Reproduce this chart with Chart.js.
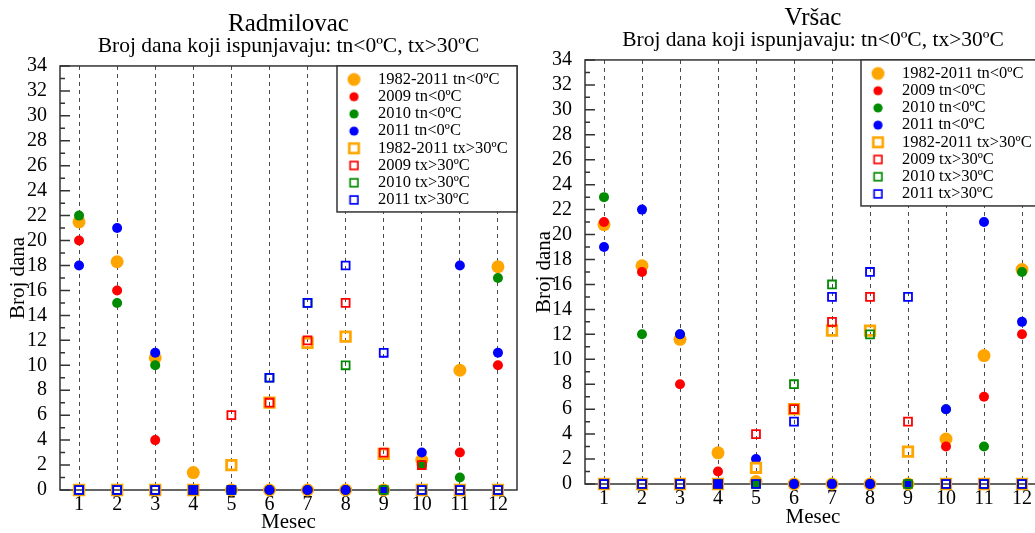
<!DOCTYPE html>
<html>
<head>
<meta charset="utf-8">
<title>Broj dana tn&lt;0ºC, tx&gt;30ºC</title>
<script src="https://cdn.jsdelivr.net/npm/chart.js@4.4.1/dist/chart.umd.min.js"></script>
<style>
  html, body { margin: 0; padding: 0; background: #fff; overflow: hidden; }
  .panel { position: absolute; top: 0; height: 533px; }
  #leftPanel { left: 0; width: 520px; }
  #rightPanel { left: 520px; width: 540px; }
</style>
</head>
<body>
<div class="panel" id="leftPanel"><canvas id="radmilovacChart"></canvas></div>
<div class="panel" id="rightPanel"><canvas id="vrsacChart"></canvas></div>
<script>
const months = ["1", "2", "3", "4", "5", "6", "7", "8", "9", "10", "11", "12"];
const seriesNames = [
  "1982-2011 tn<0ºC", "2009 tn<0ºC", "2010 tn<0ºC", "2011 tn<0ºC",
  "1982-2011 tx>30ºC", "2009 tx>30ºC", "2010 tx>30ºC", "2011 tx>30ºC"
];
const subtitleText = "Broj dana koji ispunjavaju: tn<0ºC, tx>30ºC";

// Radmilovac - frost days (tn<0) and hot days (tx>30) per month
const radTn8211 = [21.5, 18.3, 10.6, 1.4, 0, 0, 0, 0, 0, 2.4, 9.6, 17.9];
const radTn2009 = [20, 16, 4, 0, 0, 0, 0, 0, 0, 2, 3, 10];
const radTn2010 = [22, 15, 10, 0, 0, 0, 0, 0, 0, 2, 1, 17];
const radTn2011 = [18, 21, 11, 0, 0, 0, 0, 0, 0, 3, 18, 11];
const radTx8211 = [0, 0, 0, 0, 2, 7, 11.8, 12.3, 2.9, 0, 0, 0];
const radTx2009 = [0, 0, 0, 0, 6, 7, 12, 15, 3, 2, 0, 0];
const radTx2010 = [0, 0, 0, 0, 0, 9, 15, 10, 0, 0, 0, 0];
const radTx2011 = [0, 0, 0, 0, 0, 9, 15, 18, 11, 0, 0, 0];

// Vršac
const vrTn8211 = [20.8, 17.5, 11.6, 2.5, 0.2, 0, 0, 0, 0, 3.6, 10.3, 17.2];
const vrTn2009 = [21, 17, 8, 1, 0, 0, 0, 0, 0, 3, 7, 12];
const vrTn2010 = [23, 12, 12, 0, 0, 0, 0, 0, 0, 6, 3, 17];
const vrTn2011 = [19, 22, 12, 0, 2, 0, 0, 0, 0, 6, 21, 13];
const vrTx8211 = [0, 0, 0, 0, 1.3, 6, 12.3, 12.3, 2.6, 0, 0, 0];
const vrTx2009 = [0, 0, 0, 0, 4, 6, 13, 15, 5, 0, 0, 0];
const vrTx2010 = [0, 0, 0, 0, 0, 8, 16, 12, 0, 0, 0, 0];
const vrTx2011 = [0, 0, 0, 0, 0, 5, 15, 17, 15, 0, 0, 0];

const seriesColors = ["#ffa500", "#ff0000", "#008b00", "#0000ff", "#ffa500", "#ff0000", "#008b00", "#0000ff"];

const serif = "'Liberation Serif', 'Times New Roman', serif";
Chart.defaults.font.family = serif;
Chart.defaults.color = "#000";

const LEGEND_W = 180;
const LEGEND_H = 146;

// small legend icons; the marker sits left of the icon centre so the
// symbol column lines up with the boxed legend of the plot
function legendIcon(i) {
  const c = document.createElement("canvas");
  c.width = 32;
  c.height = 18;
  const g = c.getContext("2d");
  const big = i % 4 === 0;
  if (i < 4) {
    g.fillStyle = seriesColors[i];
    g.beginPath();
    g.arc(8.25, 9, big ? 6.5 : 4.6, 0, Math.PI * 2);
    g.fill();
  } else {
    const s = big ? 9.5 : 7.8;
    g.strokeStyle = seriesColors[i];
    g.lineWidth = big ? 2.6 : 1.7;
    g.strokeRect(8.25 - s / 2, 9 - s / 2, s, s);
  }
  return c;
}
const icons = seriesNames.map((_, i) => legendIcon(i));

function buildDatasets(values) {
  return values.map((data, i) => {
    const square = i >= 4;
    const big = i % 4 === 0;
    return {
      label: seriesNames[i],
      data: data,
      showLine: false,
      clip: false,
      order: values.length - i, // later series end up on top
      pointStyle: square ? "rect" : "circle",
      pointRadius: square ? (big ? 6.7 : 5.6) : (big ? 6.5 : 5),
      pointHoverRadius: square ? (big ? 6.7 : 5.6) : (big ? 6.5 : 5),
      pointBackgroundColor: square ? "rgba(0,0,0,0)" : seriesColors[i],
      pointBorderColor: seriesColors[i],
      pointBorderWidth: square ? (big ? 2.8 : 1.8) : 0,
      backgroundColor: seriesColors[i],
      borderColor: seriesColors[i]
    };
  });
}

// frame round the plot, inward y ticks and the boxed legend in the corner
const plotFrame = {
  id: "plotFrame",
  beforeDraw(chart) {
    const a = chart.chartArea;
    const lg = chart.legend;
    lg.left = a.right - LEGEND_W + 16;
    lg.top = a.top + 4.6;
    lg.right = a.right;
    lg.bottom = a.top + LEGEND_H;
  },
  beforeDatasetsDraw(chart) {
    const { ctx, chartArea: a } = chart;
    const y = chart.scales.y;
    ctx.save();
    ctx.strokeStyle = "#333";
    ctx.lineWidth = 1.5;
    ctx.strokeRect(a.left, a.top, a.right - a.left, a.bottom - a.top);
    ctx.beginPath();
    for (let v = y.min; v <= y.max; v++) {
      const py = y.getPixelForValue(v);
      ctx.moveTo(a.left, py);
      ctx.lineTo(a.left + (v % 2 === 0 ? 10 : 5), py);
    }
    ctx.stroke();
    ctx.restore();
  },
  afterDatasetsDraw(chart) {
    const { ctx, chartArea: a } = chart;
    const x0 = a.right - LEGEND_W;
    const y0 = a.top;
    ctx.save();
    ctx.fillStyle = "#fff";
    ctx.fillRect(x0, y0, LEGEND_W, LEGEND_H);
    ctx.strokeStyle = "#333";
    ctx.lineWidth = 1.5;
    ctx.strokeRect(x0, y0, LEGEND_W, LEGEND_H);
    ctx.restore();
    if (chart.legend._draw) chart.legend._draw();
    else chart.legend.draw();
  }
};

function makeChart(canvasId, station, values, geom) {
  return new Chart(document.getElementById(canvasId), {
    type: "line",
    data: { labels: months, datasets: buildDatasets(values) },
    options: {
      responsive: true,
      maintainAspectRatio: false,
      animation: false,
      events: [],
      layout: {
        autoPadding: false,
        padding: { left: 0, right: geom.padRight, top: 0, bottom: 0 }
      },
      scales: {
        x: {
          type: "category",
          offset: true,
          grid: { display: true, offset: false, drawTicks: false, color: "#4a4a4a", lineWidth: 1 },
          border: { display: false, dash: [4, 4] },
          ticks: { color: "#000", font: { size: 20 }, padding: geom.xTickPad, autoSkip: false, maxRotation: 0 },
          title: {
            display: true, text: "Mesec", color: "#000",
            font: { size: 21, lineHeight: 1 },
            padding: { top: 0, bottom: geom.xTitlePad }
          },
          afterFit(scale) { scale.height = geom.xHeight; }
        },
        y: {
          min: 0,
          max: 34,
          grid: { display: false },
          border: { display: false },
          ticks: { stepSize: 2, autoSkip: false, color: "#000", font: { size: 20 }, padding: 5 },
          title: {
            display: true, text: "Broj dana", color: "#000",
            font: { size: 21, lineHeight: 1 },
            padding: { top: geom.yTitlePad, bottom: 0 }
          },
          afterFit(scale) { scale.width = geom.yWidth; }
        }
      },
      plugins: {
        title: {
          display: true,
          fullSize: false,
          text: station,
          color: "#000",
          font: { size: 25, weight: "normal", lineHeight: 1 },
          padding: { top: geom.titleTop, bottom: 0 }
        },
        subtitle: {
          display: true,
          fullSize: false,
          text: subtitleText,
          color: "#000",
          font: { size: 21.5, weight: "normal", lineHeight: 0.9 },
          padding: { top: 0, bottom: geom.subBottom }
        },
        legend: {
          position: "chartArea",
          align: "start",
          labels: {
            usePointStyle: true,
            boxWidth: 16,
            boxHeight: 16,
            padding: 0.7,
            color: "#000",
            font: { size: 16.5 },
            sort: (a, b) => a.datasetIndex - b.datasetIndex,
            generateLabels(chart) {
              const items = Chart.defaults.plugins.legend.labels.generateLabels(chart);
              items.forEach((it) => { it.pointStyle = icons[it.datasetIndex]; });
              return items;
            }
          }
        },
        tooltip: { enabled: false }
      }
    },
    plugins: [plotFrame]
  });
}

const radmilovacChart = makeChart("radmilovacChart", "Radmilovac",
  [radTn8211, radTn2009, radTn2010, radTn2011, radTx8211, radTx2009, radTx2010, radTx2011],
  { padRight: 3, yWidth: 60, xHeight: 43, xTickPad: 2.5, xTitlePad: 0, yTitlePad: 8.4, titleTop: 12, subBottom: 9.6 });

const vrsacChart = makeChart("vrsacChart", "Vršac",
  [vrTn8211, vrTn2009, vrTn2010, vrTn2011, vrTx8211, vrTx2009, vrTx2010, vrTx2011],
  { padRight: 19, yWidth: 65, xHeight: 49, xTickPad: 2.5, xTitlePad: 5.5, yTitlePad: 14, titleTop: 5.5, subBottom: 10.1 });
</script>
</body>
</html>
